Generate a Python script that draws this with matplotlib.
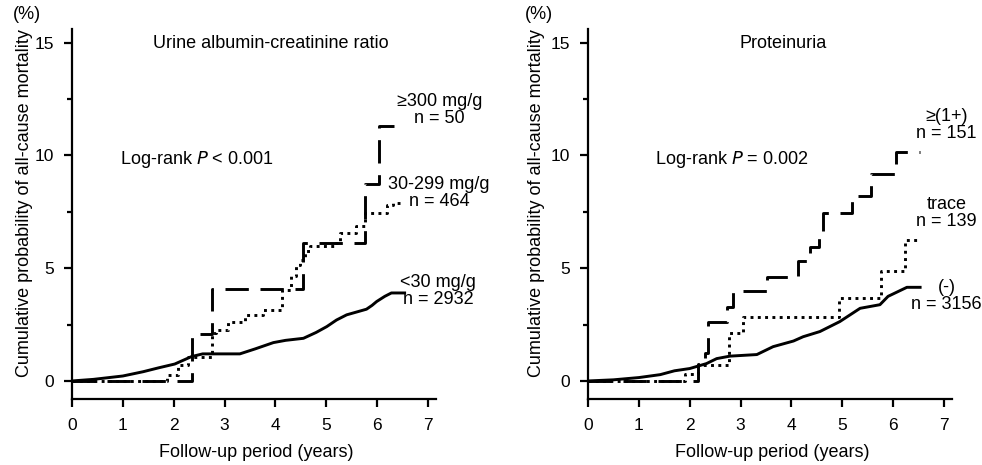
import matplotlib
matplotlib.use("Agg")
import matplotlib.pyplot as plt
from matplotlib.ticker import MultipleLocator

plt.rcParams['font.family'] = ['Liberation Sans', 'DejaVu Sans']
plt.rcParams['font.size'] = 13

# ---- left panel: urine albumin-creatinine ratio ----
acr_lo_x = [0, 0.42, 1.0, 1.40, 1.7, 2.02, 2.35, 2.57, 2.9, 3.30, 3.6, 3.96, 4.2, 4.55, 4.8, 5.01, 5.2, 5.40, 5.79, 5.9, 5.99, 6.15, 6.28, 6.54]
acr_lo_y = [0, 0.07, 0.22, 0.41, 0.58, 0.75, 1.08, 1.2, 1.2, 1.2, 1.42, 1.70, 1.8, 1.89, 2.15, 2.41, 2.7, 2.93, 3.18, 3.35, 3.52, 3.75, 3.9, 3.9]

acr_mid_x = [0, 1.86, 2.09, 2.29, 2.75, 2.84, 3.07, 3.40, 3.75, 4.12, 4.30, 4.40, 4.48, 4.58, 4.68, 5.17, 5.26, 5.58, 5.77, 6.2, 6.31, 6.44]
acr_mid_y = [0, 0.27, 0.71, 1.08, 2.12, 2.25, 2.63, 2.93, 3.15, 4.04, 4.63, 5.15, 5.37, 5.74, 5.96, 6.11, 6.55, 6.85, 7.44, 7.79, 7.87, 7.87]

acr_hi_x = [0, 2.35, 2.75, 4.55, 5.77, 6.04, 6.34]
acr_hi_y = [0, 2.06, 4.06, 6.10, 8.73, 11.3, 11.3]

# ---- right panel: proteinuria ----
pro_neg_x = [0, 0.5, 1.0, 1.42, 1.7, 2.0, 2.33, 2.53, 2.79, 3.32, 3.64, 4.04, 4.23, 4.56, 4.95, 5.35, 5.74, 5.9, 6.27, 6.53]
pro_neg_y = [0, 0.05, 0.15, 0.28, 0.45, 0.55, 0.77, 0.99, 1.1, 1.17, 1.52, 1.77, 1.96, 2.19, 2.63, 3.22, 3.38, 3.75, 4.15, 4.15]

pro_trace_x = [0, 1.91, 2.17, 2.78, 3.04, 4.94, 5.77, 6.23, 6.53]
pro_trace_y = [0, 0.33, 0.70, 2.11, 2.85, 3.67, 4.86, 6.23, 6.23]

pro_pos_x = [0, 2.17, 2.31, 2.36, 2.73, 2.86, 3.51, 4.12, 4.36, 4.55, 4.63, 5.2, 5.56, 6.06, 6.53]
pro_pos_y = [0, 0.77, 1.22, 2.63, 3.3, 3.97, 4.61, 5.31, 5.95, 6.6, 7.43, 8.21, 9.17, 10.14, 10.14]

fig = plt.figure(figsize=(9.82, 4.65), dpi=100)
ax1 = fig.add_axes([72 / 982, 1 - 399 / 465, 364 / 982, 370 / 465])
ax2 = fig.add_axes([588 / 982, 1 - 399 / 465, 364 / 982, 370 / 465])

lw = 2.1
ax1.plot(acr_hi_x, acr_hi_y, color='black', lw=lw, drawstyle='steps-post', dashes=(8, 4))
ax1.plot(acr_mid_x, acr_mid_y, color='black', lw=lw, drawstyle='steps-post', dashes=(1, 1.5))
ax1.plot(acr_lo_x, acr_lo_y, color='black', lw=lw)

ax2.plot(pro_pos_x, pro_pos_y, color='black', lw=lw, drawstyle='steps-post', dashes=(8, 4))
ax2.plot(pro_trace_x, pro_trace_y, color='black', lw=lw, drawstyle='steps-post', dashes=(1, 1.5))
ax2.plot(pro_neg_x, pro_neg_y, color='black', lw=lw)

for ax, ylab_x, pct_x in ((ax1, -0.107, -0.124), (ax2, -0.118, -0.136)):
    ax.set_xlim(0, 7.157)
    ax.set_ylim(-0.8, 15.6)
    ax.spines['top'].set_visible(False)
    ax.spines['right'].set_visible(False)
    ax.spines['left'].set_linewidth(1.6)
    ax.spines['bottom'].set_linewidth(1.6)
    ax.xaxis.set_major_locator(MultipleLocator(1))
    ax.yaxis.set_major_locator(MultipleLocator(5))
    ax.yaxis.set_minor_locator(MultipleLocator(2.5))
    ax.tick_params(axis='both', which='major', direction='out', length=5.5, width=1.6,
                   labelsize=12.5, colors='black')
    ax.tick_params(axis='x', which='major', pad=8)
    ax.tick_params(axis='y', which='major', pad=7.5)
    ax.tick_params(axis='y', which='minor', direction='out', length=3.5, width=1.6)
    ax.set_xlabel('Follow-up period (years)', va='top')
    ax.xaxis.set_label_coords(0.505, -0.122)
    ax.set_ylabel('Cumulative probability of all-cause mortality')
    ax.yaxis.set_label_coords(ylab_x, 0.53)
    ax.text(pct_x, 1.038, '(%)', transform=ax.transAxes, ha='center', va='center')

ax1.text(0.547, 0.962, 'Urine albumin-creatinine ratio', transform=ax1.transAxes, ha='center', va='center')
ax2.text(0.536, 0.962, 'Proteinuria', transform=ax2.transAxes, ha='center', va='center')

ax1.text(0.132, 0.646, 'Log-rank $\\it{P}$ < 0.001', transform=ax1.transAxes, ha='left', va='center')
ax2.text(0.184, 0.646, 'Log-rank $\\it{P}$ = 0.002', transform=ax2.transAxes, ha='left', va='center')

# group labels
ax1.text(7.22, 12.0, '\u2265300 mg/g\nn = 50', ha='center', va='center', linespacing=1.0)
ax1.text(7.22, 8.35, '30-299 mg/g\nn = 464', ha='center', va='center', linespacing=1.0)
ax1.text(7.2, 4.0, '<30 mg/g\nn = 2932', ha='center', va='center', linespacing=1.0)

ax2.text(7.05, 11.35, '\u2265(1+)\nn = 151', ha='center', va='center', linespacing=1.0)
ax2.text(7.05, 7.43, 'trace\nn = 139', ha='center', va='center', linespacing=1.0)
ax2.text(7.05, 3.75, '(-)\nn = 3156', ha='center', va='center', linespacing=1.0)

fig.savefig('out.png', dpi=100)
